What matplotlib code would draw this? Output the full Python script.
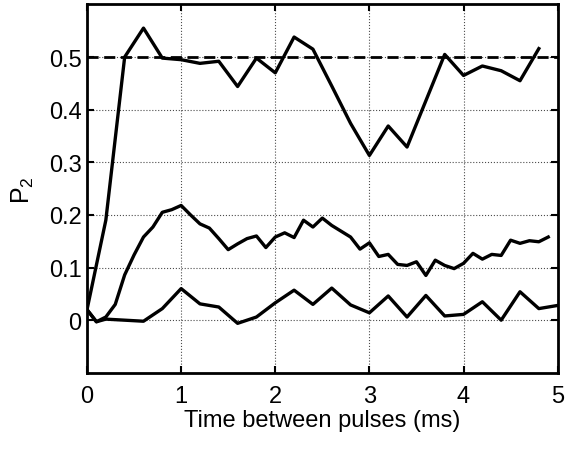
import numpy as np
import matplotlib
matplotlib.use("Agg")
import matplotlib.pyplot as plt

plt.rcParams['font.family'] = ['Liberation Sans', 'DejaVu Sans']
plt.rcParams['mathtext.default'] = 'regular'

# upper curve (0.2 ms steps)
t_top = [0, 0.2, 0.4, 0.6, 0.8, 1.0, 1.2, 1.4, 1.6, 1.8, 2.0, 2.2, 2.4,
         2.6, 2.8, 3.0, 3.2, 3.4, 3.6, 3.8, 4.0, 4.2, 4.4, 4.6, 4.8]
p_top = [0.02, 0.19, 0.50, 0.555, 0.498, 0.495, 0.488, 0.492, 0.444, 0.498,
         0.47, 0.538, 0.515, 0.445, 0.374, 0.313, 0.369, 0.329, 0.417, 0.505,
         0.465, 0.483, 0.474, 0.455, 0.516]

# middle curve (0.1 ms steps)
t_mid = [0, 0.1, 0.2, 0.3, 0.4, 0.5, 0.6, 0.7, 0.8, 0.9, 1.0, 1.1, 1.2, 1.3,
         1.4, 1.5, 1.6, 1.7, 1.8, 1.9, 2.0, 2.1, 2.2, 2.3, 2.4, 2.5, 2.6, 2.7,
         2.8, 2.9, 3.0, 3.1, 3.2, 3.3, 3.4, 3.5, 3.6, 3.7, 3.8, 3.9, 4.0, 4.1,
         4.2, 4.3, 4.4, 4.5, 4.6, 4.7, 4.8, 4.9]
p_mid = [0.02, -0.003, 0.006, 0.03, 0.086, 0.124, 0.158, 0.177, 0.205, 0.21,
         0.218, 0.2, 0.183, 0.175, 0.155, 0.134, 0.145, 0.155, 0.16, 0.138,
         0.158, 0.166, 0.157, 0.19, 0.177, 0.194, 0.18, 0.169, 0.158, 0.135,
         0.147, 0.121, 0.125, 0.106, 0.104, 0.111, 0.085, 0.114, 0.104, 0.098,
         0.108, 0.127, 0.116, 0.125, 0.123, 0.152, 0.146, 0.151, 0.149, 0.158]

# lower curve
t_low = [0, 0.1, 0.2, 0.4, 0.6, 0.8, 1.0, 1.2, 1.4, 1.6, 1.8, 2.0, 2.2, 2.4,
         2.6, 2.8, 3.0, 3.2, 3.4, 3.6, 3.8, 4.0, 4.2, 4.4, 4.6, 4.8, 5.0]
p_low = [0.02, -0.003, 0.002, 0.0, -0.002, 0.022, 0.06, 0.031, 0.025, -0.006,
         0.006, 0.033, 0.057, 0.03, 0.061, 0.029, 0.014, 0.046, 0.006, 0.047,
         0.008, 0.011, 0.035, 0.0, 0.054, 0.022, 0.028]

ref_level = 0.5
xticks = [0, 1, 2, 3, 4, 5]
yticks = [0, 0.1, 0.2, 0.3, 0.4, 0.5]

fig = plt.figure(figsize=(5.65, 4.52), dpi=100)
ax = fig.add_axes([0.154, 0.173, 0.833, 0.815])

ax.axhline(ref_level, color='k', linestyle='--', linewidth=2, dashes=(4, 2))
ax.plot(t_top, p_top, color='k', linewidth=2.4)
ax.plot(t_mid, p_mid, color='k', linewidth=2.4)
ax.plot(t_low, p_low, color='k', linewidth=2.4)

ax.set_xlim(0, 5)
ax.set_ylim(-0.1, 0.6)
ax.set_xticks(xticks)
ax.set_yticks(yticks)
ax.set_xticklabels([str(v) for v in xticks])
ax.set_yticklabels(['0', '0.1', '0.2', '0.3', '0.4', '0.5'])
ax.grid(True, color='k', linestyle=':', linewidth=0.8, alpha=0.7)
ax.tick_params(direction='in', length=5, width=1.5, top=True, right=True,
               labelsize=17)
ax.tick_params(axis='x', pad=9)
ax.tick_params(axis='y', pad=4)
for s in ax.spines.values():
    s.set_linewidth(2)

ax.set_xlabel('Time between pulses (ms)', fontsize=17, labelpad=1)
ax.set_ylabel('P$_2$', fontsize=18, labelpad=9)

fig.savefig('out.png', dpi=100)
